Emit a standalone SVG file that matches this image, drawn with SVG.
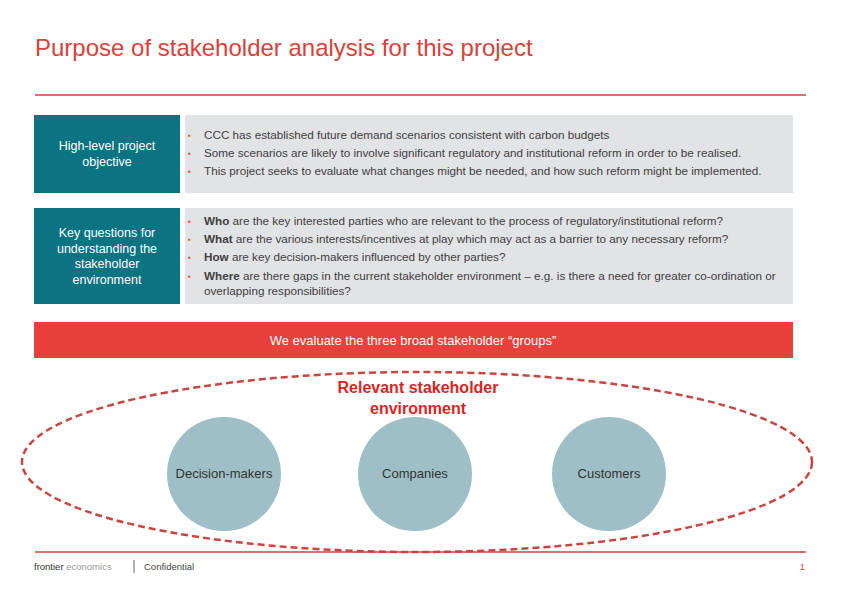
<svg xmlns="http://www.w3.org/2000/svg" width="842" height="595" viewBox="0 0 842 595">
<style>
text{font-family:"Liberation Sans",Arial,sans-serif}
.lbl{fill:#fff;font-size:12.5px;text-anchor:middle}
.bl{fill:#404040;font-size:11.7px}
.bu{fill:#e8403a;font-size:8px}
.cir{fill:#9dbfc5}
.ct{fill:#333;font-size:13px;text-anchor:middle}
</style>
<rect width="842" height="595" fill="#fff"/>
<text x="35" y="56" font-size="24" fill="#d9413b">Purpose of stakeholder analysis for this project</text>
<line x1="35" y1="95" x2="806" y2="95" stroke="#c9453f" stroke-width="1.5"/>
<g id="objective">
<rect x="34" y="115" width="146" height="78" fill="#0b7381"/>
<text class="lbl" x="107" y="150">High-level project</text>
<text class="lbl" x="107" y="166">objective</text>
</g>
<g id="objective-text">
<rect x="185" y="115" width="608" height="78" fill="#e2e3e5"/>
<text class="bu" x="188" y="138">▪</text><text class="bl" x="204" y="139">CCC has established future demand scenarios consistent with carbon budgets</text>
<text class="bu" x="188" y="156">▪</text><text class="bl" x="204" y="157">Some scenarios are likely to involve significant regulatory and institutional reform in order to be realised.</text>
<text class="bu" x="188" y="174">▪</text><text class="bl" x="204" y="175">This project seeks to evaluate what changes might be needed, and how such reform might be implemented.</text>
</g>
<g id="questions">
<rect x="34" y="208" width="146" height="96" fill="#0b7381"/>
<text class="lbl" x="107" y="237">Key questions for</text>
<text class="lbl" x="107" y="253">understanding the</text>
<text class="lbl" x="107" y="268">stakeholder</text>
<text class="lbl" x="107" y="284">environment</text>
</g>
<g id="questions-text">
<rect x="185" y="208" width="608" height="96" fill="#e2e3e5"/>
<text class="bu" x="188" y="224">▪</text><text class="bl" x="204" y="225"><tspan font-weight="bold">Who</tspan> are the key interested parties who are relevant to the process of regulatory/institutional reform?</text>
<text class="bu" x="188" y="242">▪</text><text class="bl" x="204" y="243"><tspan font-weight="bold">What</tspan> are the various interests/incentives at play which may act as a barrier to any necessary reform?</text>
<text class="bu" x="188" y="260">▪</text><text class="bl" x="204" y="261"><tspan font-weight="bold">How</tspan> are key decision-makers influenced by other parties?</text>
<text class="bu" x="188" y="279">▪</text><text class="bl" x="204" y="280"><tspan font-weight="bold">Where</tspan> are there gaps in the current stakeholder environment – e.g. is there a need for greater co-ordination or</text>
<text class="bl" x="204" y="295">overlapping responsibilities?</text>
</g>
<g id="banner">
<rect x="34" y="322" width="759" height="36" fill="#e8403a"/>
<text x="413" y="345" font-size="13" fill="#fff" text-anchor="middle">We evaluate the three broad stakeholder “groups”</text>
</g>
<g id="connectors">
<ellipse cx="417" cy="462" rx="395" ry="90" fill="none" stroke="#c9453f" stroke-width="2.5" stroke-dasharray="7,4"/>
</g>
<g id="environment">
<text x="418" y="393" font-size="16" font-weight="bold" fill="#d9251d" text-anchor="middle">Relevant stakeholder</text>
<text x="418" y="414" font-size="16" font-weight="bold" fill="#d9251d" text-anchor="middle">environment</text>
</g>
<g id="decision-makers"><circle class="cir" cx="224" cy="474" r="57"/><text class="ct" x="224" y="478">Decision-makers</text></g>
<g id="companies"><circle class="cir" cx="415" cy="474" r="57"/><text class="ct" x="415" y="478">Companies</text></g>
<g id="customers"><circle class="cir" cx="609" cy="474" r="57"/><text class="ct" x="609" y="478">Customers</text></g>
<line x1="35" y1="552" x2="806" y2="552" stroke="#c9453f" stroke-width="1.5"/>
<text x="34" y="570" font-size="9.5" fill="#333">frontier <tspan fill="#999">economics</tspan></text>
<line x1="134" y1="560" x2="134" y2="573" stroke="#666"/>
<text x="144" y="570" font-size="9.5" fill="#444">Confidential</text>
<text x="805" y="570" font-size="9.5" fill="#d9413b" text-anchor="end">1</text>
</svg>
